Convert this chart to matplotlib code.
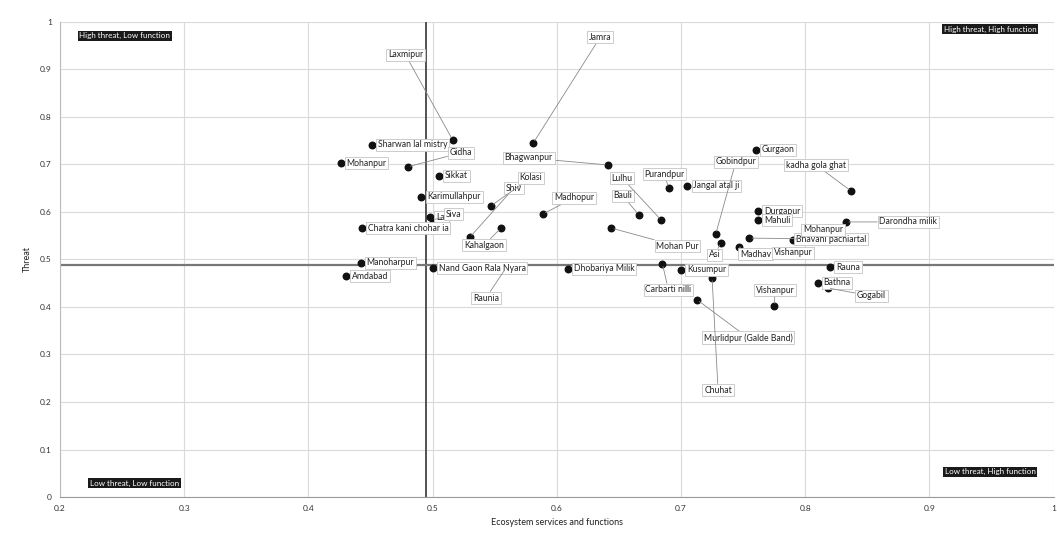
import matplotlib.pyplot as plt

plt.rcParams['font.family'] = ['Lato', 'DejaVu Sans']

# Village scores: ecosystem services/functions (x) vs threat (y)
villages = [
    "Sharwan lal mistry", "Mohanpur", "Gidha", "Laxmipur", "Sikkat",
    "Karimullahpur", "Lal", "Siva", "Chatra kani chohar ia", "Shiv",
    "Kolasi", "Madhopur", "Kahalgaon", "Jamra", "Bhagwanpur",
    "Manoharpur", "Amdabad", "Nand Gaon Rala Nyara", "Raunia", "Dhobariya Milik",
    "Bauli", "Lulhu", "Purandpur", "Jangal atal ji", "Mohan Pur",
    "Gobindpur", "Asi", "Madhav", "Bhavani pachiartal", "Mohanpur",
    "Durgapur", "Mahuli", "Gurgaon", "kadha gola ghat", "Darondha milik",
    "Vishanpur", "Rauna", "Bathna", "Gogabil", "Vishanpur",
    "Carbarti nilli", "Kusumpur", "Murlidpur (Galde Band)", "Chuhat",
]
services = [
    0.451, 0.426, 0.480, 0.516, 0.505,
    0.491, 0.498, 0.500, 0.443, 0.530,
    0.547, 0.589, 0.555, 0.581, 0.641,
    0.442, 0.430, 0.500, 0.559, 0.609,
    0.666, 0.684, 0.690, 0.705, 0.644,
    0.728, 0.732, 0.747, 0.755, 0.790,
    0.762, 0.762, 0.760, 0.837, 0.833,
    0.770, 0.820, 0.810, 0.818, 0.775,
    0.685, 0.700, 0.713, 0.725,
]
threat = [
    0.741, 0.703, 0.695, 0.752, 0.676,
    0.632, 0.589, 0.583, 0.566, 0.547,
    0.613, 0.596, 0.566, 0.745, 0.699,
    0.493, 0.465, 0.482, 0.482, 0.480,
    0.594, 0.583, 0.650, 0.655, 0.566,
    0.554, 0.535, 0.526, 0.545, 0.541,
    0.602, 0.583, 0.731, 0.644, 0.579,
    0.514, 0.484, 0.451, 0.440, 0.402,
    0.491, 0.478, 0.415, 0.461,
]

# label placement in pixels from the dot; None means just to the right
label_offsets = [
    None, None, (53, 14), (-47, 85), None,
    None, None, (21, 6), None, (44, 49),
    (40, 28), (31, 16), (-17, -17), (67, 106), (-79, 7),
    None, None, None, (-20, -30), None,
    (-16, 19), (-39, 42), (-4, 14), None, (66, -18),
    (20, 72), (-6, -12), (16, -7), (82, -1), (30, 10),
    None, None, None, (-35, 26), (62, 0),
    None, None, None, (44, -8), (1, 16),
    (6, -26), None, (51, -38), (6, -112),
]

x_mid, y_mid = 0.495, 0.488
quadrants = [
    ("High threat, Low function", 0.252, 0.971),
    ("High threat, High function", 0.949, 0.985),
    ("Low threat, Low function", 0.260, 0.029),
    ("Low threat, High function", 0.949, 0.053),
]

fig = plt.figure(figsize=(10.57, 5.35), dpi=100)
ax = fig.add_axes([0.0568, 0.071, 0.94, 0.888])

ax.set_xlim(0.2, 1.0)
ax.set_ylim(0, 1.0)
ax.set_xticks([0.2, 0.3, 0.4, 0.5, 0.6, 0.7, 0.8, 0.9, 1.0])
ax.set_xticklabels(["0.2", "0.3", "0.4", "0.5", "0.6", "0.7", "0.8", "0.9", "1"])
ax.set_yticks([0, 0.1, 0.2, 0.3, 0.4, 0.5, 0.6, 0.7, 0.8, 0.9, 1.0])
ax.set_yticklabels(["0", "0.1", "0.2", "0.3", "0.4", "0.5", "0.6", "0.7", "0.8", "0.9", "1"])
ax.tick_params(length=0, labelsize=6, colors='#333333', pad=6)
ax.grid(True, color='#dadada', lw=0.8)
ax.set_axisbelow(True)
for side in ['top', 'right']:
    ax.spines[side].set_visible(False)
ax.spines['left'].set_color('#bbbbbb')
ax.spines['bottom'].set_color('#9a9a9a')

ax.axvline(x_mid, color='#444444', lw=1.3, zorder=2)
ax.axhline(y_mid, color='#777777', lw=1.6, zorder=2)

ax.scatter(services, threat, s=22, color='#111111', zorder=3)

box = dict(boxstyle='square,pad=0.2', fc='white', ec='#c4c4c4', lw=0.6)
for name, x, y, off in zip(villages, services, threat, label_offsets):
    if off is None:
        ax.annotate(name, (x, y), xytext=(6, 0), textcoords='offset pixels',
                    ha='left', va='center', fontsize=6.2, color='#222222',
                    bbox=box, zorder=4)
    else:
        ax.annotate(name, (x, y), xytext=off, textcoords='offset pixels',
                    ha='center', va='center', fontsize=6.2, color='#222222',
                    bbox=box, zorder=4,
                    arrowprops=dict(arrowstyle='-', color='#8a8a8a', lw=0.6,
                                    shrinkA=0, shrinkB=2))

for text, x, y in quadrants:
    ax.text(x, y, text, ha='center', va='center', fontsize=5.8, color='white',
            bbox=dict(boxstyle='square,pad=0.2', fc='#1a1a1a', ec='none'),
            zorder=5)

ax.set_xlabel("Ecosystem services and functions", fontsize=6.5, color='#222222', labelpad=4)
ax.set_ylabel("Threat", fontsize=6.5, color='#222222', labelpad=6)

fig.savefig("out.png", dpi=100, facecolor='white')
